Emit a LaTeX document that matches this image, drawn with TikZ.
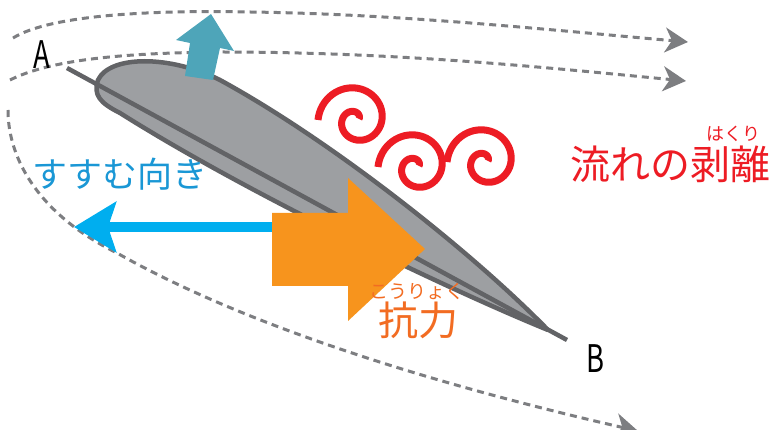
\documentclass[tikz,border=0pt]{standalone}
\usepackage{fontspec}
\newfontfamily\jpfont{Noto Sans CJK JP}
\usetikzlibrary{arrows.meta}

\definecolor{wingfill}{HTML}{9D9FA2}
\definecolor{wingline}{HTML}{626366}
\definecolor{flowgray}{HTML}{7D7E81}
\definecolor{liftblue}{HTML}{4EA5B9}
\definecolor{gosky}{HTML}{00AEEF}
\definecolor{gotext}{HTML}{1A97D5}
\definecolor{dragorange}{HTML}{F7941D}
\definecolor{dragtext}{HTML}{F26C22}
\definecolor{eddyred}{HTML}{ED1C24}

\tikzset{
  flow/.style={flowgray, line width=3pt, dash pattern=on 7pt off 5pt,
    -{Stealth[length=23pt, width=25pt, inset=7pt]}},
  wing/.style={fill=wingfill, draw=wingline, line width=4.5pt, line join=round},
  eddy/.style={eddyred, line width=7pt},
  lbl/.style={inner sep=0pt, font=\jpfont},
}

% a spiral wound inward, clockwise on the page
\newcommand{\eddyat}[2]{%
  \draw[eddy] plot[domain=0:520, samples=90, smooth]
    ({#1-(38-0.067*\x)*cos(\x)}, {#2-(38-0.067*\x)*sin(\x)});}

\begin{document}
\begin{tikzpicture}[x=1pt, y=-1pt]
	\useasboundingbox (0,0) rectangle (777,430);

	% flow lines round the wing
	\coordinate (f1s) at (13,38);
	\coordinate (f1e) at (688,42);
	\coordinate (f2s) at (10,80);
	\coordinate (f2e) at (686,81);
	\coordinate (f3s) at (8,110);
	\coordinate (f3e) at (638,431);
	\draw[flow] (f1s) .. controls (50,15) and (150,10) .. (250,12) .. controls (400,14) and (550,30) .. (f1e);
	\draw[flow] (f2s) .. controls (50,60) and (120,53) .. (220,52) .. controls (400,52) and (550,68) .. (f2e);
	\draw[flow] (f3s) .. controls (8,160) and (40,215) .. (117,253) .. controls (200,300) and (350,365) .. (f3e);

	% direction of travel
	\coordinate (gotail) at (290,227);
	\coordinate (gohead) at (74,227);
	\draw[gosky, line width=10pt, -{Stealth[length=42pt, width=50pt, inset=8pt]}] (gotail) -- (gohead);

	% wing section
	\draw[wing] (548,330) .. controls (470,250) and (330,140) .. (220,80)
		.. controls (170,55) and (110,55) .. (98,80)
		.. controls (93,95) and (100,103) .. (120,113)
		.. controls (250,195) and (450,290) .. (548,330) -- cycle;
	\coordinate (le) at (67,68);
	\coordinate (te) at (567,340);
	\draw[wingline, line width=4.5pt] (le) -- (te);

	% lift
	\fill[liftblue] (185,76) -- (190,43) -- (176,40) -- (211,14) -- (234,51) -- (220,48) -- (213,80) -- cycle;

	% drag
	\fill[dragorange] (272,213) -- (348,213) -- (348,178) -- (425,249) -- (348,321) -- (348,286) -- (272,286) -- cycle;

	% separated flow
	\eddyat{356}{120}
	\eddyat{416}{167}
	\eddyat{485}{162}

	\node[lbl, font=\jpfont\fontsize{38}{38}\selectfont] (a) at (42,55) {\scalebox{0.72}[1]{A}};
	\node[lbl, font=\jpfont\fontsize{38}{38}\selectfont] (b) at (595,359) {\scalebox{0.72}[1]{B}};
	\node[lbl, gotext, font=\jpfont\fontsize{35}{35}\selectfont] (go) at (120,174) {すすむ向き};
	\node[lbl, eddyred, font=\jpfont\fontsize{40}{40}\selectfont] (sep) at (670,164) {流れの剥離};
	\node[lbl, eddyred, font=\jpfont\fontsize{18}{18}\selectfont] (sepruby) at (733,134) {はくり};
	\node[lbl, dragtext, font=\jpfont\fontsize{40}{40}\selectfont] (drag) at (418,320) {抗力};
	\node[lbl, dragtext, font=\jpfont\fontsize{19}{19}\selectfont] (dragruby) at (417,291) {こうりょく};
\end{tikzpicture}
\end{document}
